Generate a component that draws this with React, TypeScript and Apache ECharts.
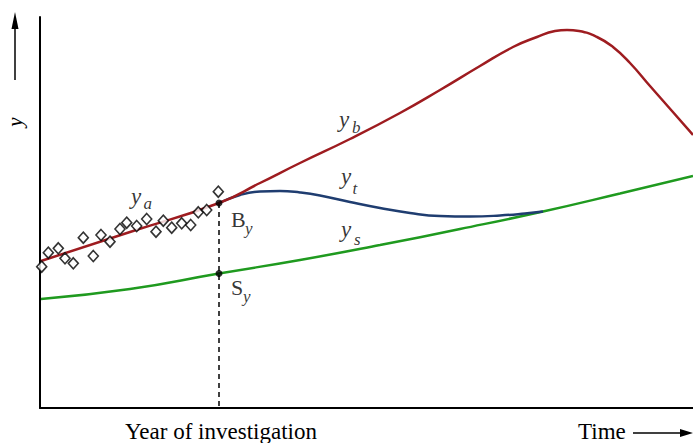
import React, { useEffect, useRef } from "react";
import * as echarts from "echarts";

// Data in chart units: x = time (0..653), y = value (0..391)
const observations: number[][] = [
  [1.7, 141.3], [8.3, 155.3], [18.3, 159.7], [25, 149.7], [33.3, 144.7],
  [43.3, 170.3], [53.3, 152], [61, 173], [70, 166.3], [80, 179],
  [86.7, 185.3], [96.7, 182], [106.7, 189], [116, 176.3], [123.3, 187.3],
  [131.7, 180.3], [141.7, 184.7], [150.7, 183], [158.3, 195.7], [166.7, 198],
  [178.3, 216.3],
];

const curveYaYb: number[][] = [
  [1, 147], [90, 176], [179, 205], [220, 225], [260, 245], [310, 269],
  [360, 295], [400, 318], [440, 342], [473, 361], [497, 371], [515, 376.9],
  [527, 378], [539, 376.9], [557, 371], [573, 361], [590, 345], [610, 322],
  [632, 297], [653, 273],
];

const curveYt: number[][] = [
  [179, 205], [200, 213], [220, 216.5], [240, 217], [260, 215.5],
  [280, 212.5], [310, 206], [340, 200], [370, 195], [400, 192],
  [430, 191.5], [460, 192.5], [485, 194.5], [503, 196.5],
];

const curveYs: number[][] = [
  [1, 109], [90, 119], [179, 134.5], [260, 148], [340, 163], [420, 179],
  [503, 196.5], [580, 214.5], [653, 232],
];

const investigationYear = 179;
const pointBy: number[] = [179, 205];
const pointSy: number[] = [179, 134.5];

// labels: [x, y, text, fontSize, italic]
const curveLabels: [number, number, string, number, boolean][] = [
  [91, 211.5, "y", 23, true], [103.5, 204.5, "a", 17, true],
  [191, 188.4, "B", 22, false], [205, 179.5, "y", 17, true],
  [191, 120.4, "S", 22, false], [203, 111.5, "y", 17, true],
  [299, 288.4, "y", 23, true], [312, 280.4, "b", 17, true],
  [301, 231.4, "y", 23, true], [312.5, 219.4, "t", 17, true],
  [301, 178.4, "y", 23, true], [314, 168.4, "s", 17, true],
];

const FONT = "'Liberation Serif', 'DejaVu Serif', serif";

export default function App() {
  const ref = useRef<HTMLDivElement>(null);
  useEffect(() => {
    if (!ref.current) return;
    const chart = echarts.init(ref.current, null, { renderer: "svg" });
    const hiddenAxis = {
      type: "value" as const,
      axisTick: { show: false },
      axisLabel: { show: false },
      splitLine: { show: false },
      axisLine: { show: true, lineStyle: { color: "#000", width: 2 } },
    };
    chart.setOption({
      animation: false,
      backgroundColor: "#fff",
      grid: { left: 40, right: 0, top: 17, bottom: 35 },
      xAxis: { ...hiddenAxis, min: 0, max: 653 },
      yAxis: { ...hiddenAxis, min: 0, max: 391 },
      series: [
        {
          type: "line",
          data: [[investigationYear, pointBy[1]], [investigationYear, 0]],
          symbol: "none",
          lineStyle: { color: "#000", width: 1.5, type: [5, 4] },
          z: 1,
        },
        {
          type: "line",
          data: curveYs,
          smooth: 0.5,
          symbol: "none",
          lineStyle: { color: "#1f9a1f", width: 2.5 },
          z: 2,
        },
        {
          type: "line",
          data: curveYt,
          smooth: 0.5,
          symbol: "none",
          lineStyle: { color: "#1f3d70", width: 2.5 },
          z: 3,
        },
        {
          type: "line",
          data: curveYaYb,
          smooth: 0.5,
          symbol: "none",
          lineStyle: { color: "#9e1c20", width: 2.5 },
          z: 4,
        },
        {
          type: "scatter",
          data: observations,
          symbol: "diamond",
          symbolSize: [10, 11],
          itemStyle: { color: "#fff", borderColor: "#000", borderWidth: 1.6 },
          z: 5,
        },
        {
          type: "scatter",
          data: [pointBy, pointSy],
          symbol: "circle",
          symbolSize: 7,
          itemStyle: { color: "#000" },
          z: 6,
        },
        {
          type: "scatter",
          symbolSize: 0,
          silent: true,
          z: 7,
          data: curveLabels.map((l) => ({
            value: [l[0], l[1]],
            label: {
              show: true,
              position: "inside",
              align: "left",
              verticalAlign: "middle",
              formatter: l[2],
              fontSize: l[3],
              fontStyle: l[4] ? "italic" : "normal",
              fontFamily: FONT,
              color: "#000",
            },
          })),
        },
      ],
      graphic: [
        {
          type: "line",
          shape: { x1: 15, y1: 80, x2: 15, y2: 24 },
          style: { stroke: "#000", lineWidth: 1.5 },
        },
        {
          type: "polygon",
          shape: { points: [[15, 12], [11.5, 29], [18.5, 29]] },
          style: { fill: "#000" },
        },
        {
          type: "text",
          x: 15,
          y: 122,
          rotation: Math.PI / 2,
          style: {
            text: "y",
            font: `italic 21px ${FONT}`,
            fill: "#000",
            textAlign: "center",
            textVerticalAlign: "middle",
          },
        },
        {
          type: "text",
          x: 221,
          y: 431,
          style: {
            text: "Year of investigation",
            font: `23px ${FONT}`,
            fill: "#000",
            textAlign: "center",
            textVerticalAlign: "middle",
          },
        },
        {
          type: "text",
          x: 578,
          y: 431,
          style: {
            text: "Time",
            font: `23px ${FONT}`,
            fill: "#000",
            textAlign: "left",
            textVerticalAlign: "middle",
          },
        },
        {
          type: "line",
          shape: { x1: 633, y1: 433, x2: 684, y2: 433 },
          style: { stroke: "#000", lineWidth: 1.5 },
        },
        {
          type: "polygon",
          shape: { points: [[693, 433], [680, 429], [680, 437]] },
          style: { fill: "#000" },
        },
      ],
    });
    return () => chart.dispose();
  }, []);
  return (
    <div
      ref={ref}
      style={{ position: "absolute", left: 0, top: 0, width: 693, height: 443 }}
    />
  );
}
